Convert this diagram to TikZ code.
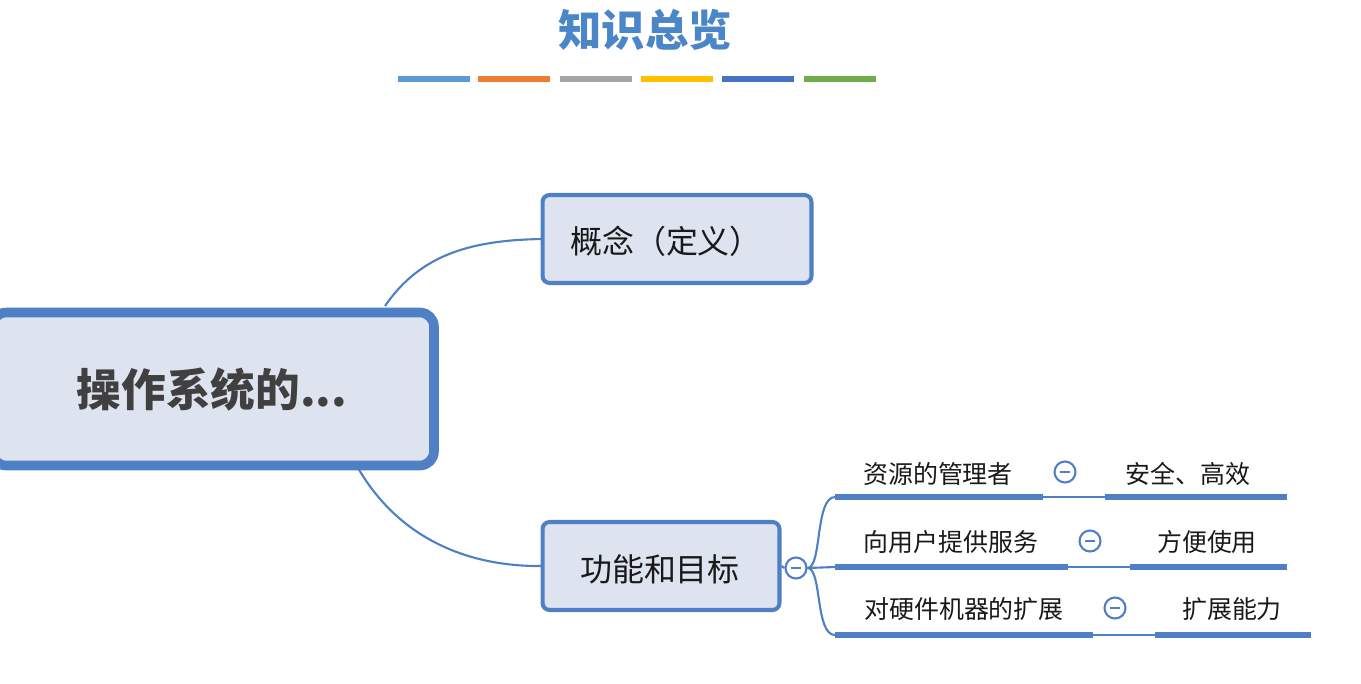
\documentclass[tikz,border=0pt]{standalone}
\usepackage{fontspec}
\setmainfont{Noto Sans CJK SC}
\definecolor{edge}{HTML}{4F7FC4}
\definecolor{boxfill}{HTML}{DEE3F0}
\definecolor{ttl}{HTML}{4A86C8}
\definecolor{cA}{HTML}{5B9BD5}\definecolor{cB}{HTML}{ED7D31}\definecolor{cC}{HTML}{A5A5A5}
\definecolor{cD}{HTML}{FFC000}\definecolor{cE}{HTML}{4472C4}\definecolor{cF}{HTML}{70AD47}
\begin{document}
\begin{tikzpicture}[x=0.02cm,y=-0.02cm,
  bar/.style={line width=3.4pt},
  boxn/.style={draw=edge,fill=boxfill,rounded corners=4pt,line width=2.3pt,inner sep=0pt},
  conn/.style={draw=edge,line width=1.2pt},
  uline/.style={draw=edge,line width=3pt},
  lbl/.style={font=\fontsize{14.2pt}{16pt}\selectfont,inner sep=0pt,text=black!90},
  minus/.style={circle,draw=edge,line width=1.2pt,fill=white,minimum size=0.42cm,inner sep=0pt,
    path picture={\draw[edge,line width=1pt] ([xshift=-3pt]path picture bounding box.center)--([xshift=3pt]path picture bounding box.center);}}]
\useasboundingbox (0,0) rectangle (1361,683);
\node[text=ttl,font=\fontsize{24.7pt}{27pt}\selectfont\bfseries] (title) at (645,30) {知识总览};
\foreach \a/\c in {398/cA,478/cB,560/cC,641/cD,722/cE,804/cF}
  \draw[bar,\c] (\a,79) -- ++(72,0);
\coordinate (mt) at (385,306);
\coordinate (mb) at (358,468);
\draw[conn] (mt) .. controls (420,255) and (470,240) .. (543,239);
\draw[conn] (mb) .. controls (400,540) and (470,567) .. (543,566);
\node[boxn,line width=5.5pt,rounded corners=8pt,minimum width=8.84cm,minimum height=3.06cm] (main) at (213,389) {};
\node[font=\fontsize{25.4pt}{28pt}\selectfont\bfseries,text=black!75] (maint) at (212,389) {操作系统的...};
\node[boxn,minimum width=5.38cm,minimum height=1.76cm] (gn) at (677,239) {};
\node[font=\fontsize{18.2pt}{20pt}\selectfont,text=black!90] (gnt) at (666,241) {概念（定义）};
\node[boxn,minimum width=4.74cm,minimum height=1.76cm] (gm) at (661,566) {};
\node[font=\fontsize{18.2pt}{20pt}\selectfont,text=black!90] (gmt) at (660,569) {功能和目标};
\node[minus] (m0) at (796,568) {};
\coordinate (b1) at (835,497);\coordinate (b2) at (835,567);\coordinate (b3) at (835,635);
\draw[conn] (gm.east) -- (m0.west);
\draw[conn] (m0.east) -- (b2);
\draw[conn] (m0.east) .. controls (822,568) and (815,497) .. (b1);
\draw[conn] (m0.east) .. controls (822,568) and (815,635) .. (b3);
\foreach \y/\a/\b/\e/\i in {497/1043/1105/1287/1,567/1068/1130/1287/2,635/1093/1155/1311/3}{
  \coordinate (la\i) at (835,\y);\coordinate (lb\i) at (\a,\y);
  \coordinate (lc\i) at (\b,\y);\coordinate (ld\i) at (\e,\y);
  \draw[uline] (la\i) -- (lb\i);
  \draw[conn] (lb\i) -- (lc\i);
  \draw[uline] (lc\i) -- (ld\i);
}
\node[minus] (m1) at (1065,472) {};
\node[minus] (m2) at (1090,541) {};
\node[minus] (m3) at (1115,608) {};
\node[lbl] (t1) at (938,474) {资源的管理者};
\node[lbl] (u1) at (1188,474) {安全、高效};
\node[lbl] (t2) at (951,542) {向用户提供服务};
\node[lbl] (u2) at (1207,542) {方便使用};
\node[lbl] (t3) at (964,609) {对硬件机器的扩展};
\node[lbl] (u3) at (1232,609) {扩展能力};
\end{tikzpicture}
\end{document}
